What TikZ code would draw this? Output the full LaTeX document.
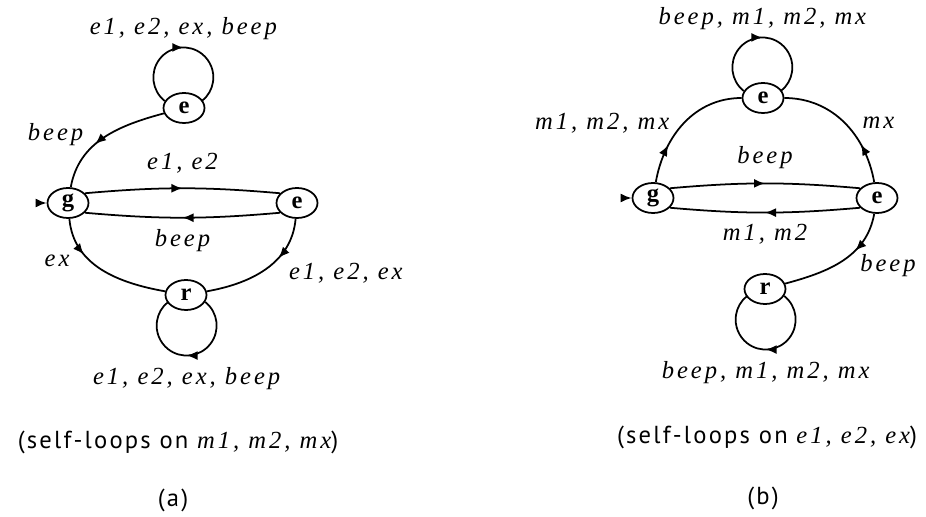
\documentclass[tikz,border=0pt]{standalone}
\usepackage{fontspec}
\setmainfont{Liberation Serif}
\newfontfamily\labfont[LetterSpace=12]{Liberation Serif}
\newfontfamily\capfont[LetterSpace=9]{PT Sans}
\usetikzlibrary{positioning}
\usetikzlibrary{shapes.geometric}
\usetikzlibrary{arrows.meta}
\usetikzlibrary{decorations.markings}
\tikzset{st/.style={draw,ellipse,line width=1pt,minimum width=0.82cm,minimum height=0.6cm,inner sep=0pt,font=\fontsize{14}{14}\selectfont\bfseries}}
\tikzset{lbl/.style={inner sep=2pt,font=\labfont\itshape\fontsize{14}{16}\selectfont}}
\tikzset{capt/.style={inner sep=0pt,font=\capfont\fontsize{14}{16}\selectfont}}
\tikzset{marr/.style={postaction={decorate},decoration={markings,mark=at position #1 with {\arrow{>}}}},marr/.default=0.5}
\tikzset{>={Latex[length=2.2mm,width=1.8mm]}}

\begin{document}
\begin{tikzpicture}[on grid, line width=1pt]
        \useasboundingbox (0,0) rectangle (18.52,-10.34);

        % (a)
        \node[st] (gA) at (1.36,-4.06) {g};
        \node[st, right=4.58cm of gA] (eA) {e};
        \node[st, above right=1.9cm and 2.32cm of gA] (tA) {e};
        \node[st, below right=1.84cm and 2.36cm of gA] (rA) {r};
        \coordinate[left=0.22cm of gA.west] (iA);

        \draw[->] (iA) -- (gA);
        \draw[marr] (tA.160) arc[start angle=231.8, end angle=-51.8, radius=0.6cm]
            node[lbl, midway, above=2pt] {e1, e2, ex, beep};
        \draw[marr=0.6] (tA) to[out=195, in=80] node[lbl, pos=0.45, left=12pt] {beep} (gA);
        \draw[marr] (gA.30) to[bend left=5] node[lbl, above=6pt] {e1, e2} (eA.150);
        \draw[marr] (eA.-150) to[bend left=5] node[lbl, below=4pt] {beep} (gA.-30);
        \draw[marr=0.35] (eA) to[out=-95, in=10] node[lbl, pos=0.35, below right=1pt and 3pt] {e1, e2, ex} (rA);
        \draw[marr=0.3] (gA) to[out=-85, in=170] node[lbl, pos=0.38, left=9pt] {ex} (rA);
        \draw[marr] (rA.-20) arc[start angle=51.8, end angle=-231.8, radius=0.6cm]
            node[lbl, midway, below=4pt] {e1, e2, ex, beep};

        \node[capt] (capA) at (3.56,-8.84) {(self-loops on {\labfont\itshape m1, m2, mx})};
        \node[capt] (subA) at (3.46,-10.0) {(a)};

        % (b)
        \node[st] (gB) at (13.06,-3.96) {g};
        \node[st, right=4.48cm of gB] (eB) {e};
        \node[st, above right=2.0cm and 2.2cm of gB] (tB) {e};
        \node[st, below right=1.82cm and 2.24cm of gB] (rB) {r};
        \coordinate[left=0.22cm of gB.west] (iB);

        \draw[->] (iB) -- (gB);
        \draw[marr] (tB.160) arc[start angle=231.8, end angle=-51.8, radius=0.6cm]
            node[lbl, midway, above=2pt] {beep, m1, m2, mx};
        \draw[marr=0.3] (gB) to[out=80, in=180] node[lbl, pos=0.5, left=6pt] {m1, m2, mx} (tB);
        \draw[marr=0.3] (eB) to[out=100, in=0] node[lbl, pos=0.5, right=8pt] {mx} (tB);
        \draw[marr] (gB.30) to[bend left=5] node[lbl, above=6pt] {beep} (eB.150);
        \draw[marr] (eB.-150) to[bend left=5] node[lbl, below=4pt] {m1, m2} (gB.-30);
        \draw[marr=0.35] (eB) to[out=-100, in=15] node[lbl, pos=0.35, below right] {beep} (rB);
        \draw[marr] (rB.-20) arc[start angle=51.8, end angle=-231.8, radius=0.6cm]
            node[lbl, midway, below=4pt] {beep, m1, m2, mx};

        \node[capt] (capB) at (15.34,-8.74) {(self-loops on {\labfont\itshape e1, e2, ex})};
        \node[capt] (subB) at (15.26,-9.96) {(b)};
\end{tikzpicture}
\end{document}
